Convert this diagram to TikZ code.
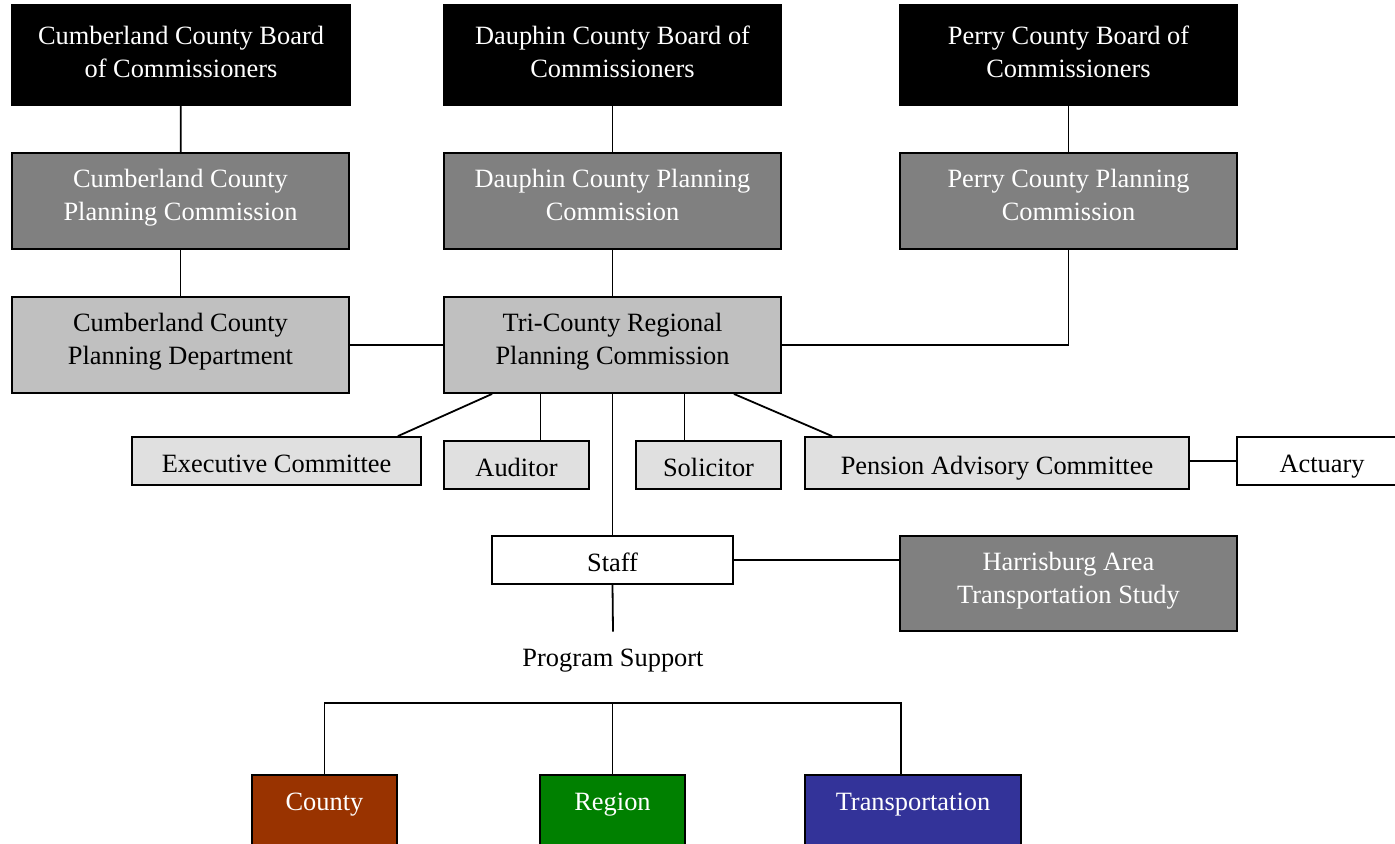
\documentclass[tikz,border=0pt]{standalone}
\usepackage{fontspec}
\setmainfont{Liberation Serif}
\definecolor{midgrey}{HTML}{808080}
\definecolor{lightgrey}{HTML}{C0C0C0}
\definecolor{palegrey}{HTML}{E0E0E0}
\definecolor{countyred}{HTML}{993300}
\definecolor{regiongreen}{HTML}{008000}
\definecolor{transblue}{HTML}{333399}
\begin{document}
\begin{tikzpicture}[x=0.5pt,y=-0.5pt,
    box/.style={draw=black, line width=0.9pt, inner xsep=2pt, inner ysep=0pt, align=center,
        font=\fontsize{13.2}{16.2}\selectfont},
    twoline/.style={box, text height=33.5pt, text depth=14.5pt},
    oneline/.style={box, minimum height=24pt, text height=11.5pt, text depth=0.5pt},
    board/.style={twoline, fill=black, text=white, minimum width=169pt, text height=36pt, text depth=14pt},
    plan/.style={twoline, fill=midgrey, text=white, minimum width=168.5pt},
    dept/.style={twoline, fill=lightgrey, minimum width=168.5pt},
    committee/.style={oneline, fill=palegrey},
    program/.style={box, text=white, minimum width=72.5pt, text height=18pt, text depth=23.5pt},
    link/.style={line width=0.9pt}]

    \clip (0,0) rectangle (1395,843);

    %draw boards:
    \node[board] (cumbBoard) at (181,55) {Cumberland County Board\\of Commissioners};
    \node[board] (dauphBoard) at (612.5,55) {Dauphin County Board of\\Commissioners};
    \node[board] (perryBoard) at (1068.5,55) {Perry County Board of\\Commissioners};

    %draw planning commissions:
    \node[plan] (cumbPlan) at (180.5,201) {Cumberland County\\Planning Commission};
    \node[plan] (dauphPlan) at (612.5,201) {Dauphin County Planning\\Commission};
    \node[plan] (perryPlan) at (1068.5,201) {Perry County Planning\\Commission};

    %draw middle row:
    \node[dept] (cumbDept) at (180.5,345) {Cumberland County\\Planning Department};
    \node[dept] (tri) at (612.5,345) {Tri-County Regional\\Planning Commission};

    %draw committees:
    \node[committee, minimum width=144.5pt] (exec) at (276.5,461) {Executive Committee};
    \node[committee, minimum width=72.5pt] (auditor) at (516.5,465) {Auditor};
    \node[committee, minimum width=72.5pt] (solicitor) at (708.5,465) {Solicitor};
    \node[committee, minimum width=192pt, minimum height=26pt] (pension) at (997,463) {Pension Advisory Committee};
    \node[oneline, fill=white, minimum width=85pt] (actuary) at (1322,461) {Actuary};

    %draw staff:
    \node[oneline, fill=white, minimum width=120.5pt] (staff) at (612.5,560) {Staff};
    \node[twoline, fill=midgrey, text=white, minimum width=168.5pt, text depth=14pt] (harris) at (1068.5,583.5) {Harrisburg Area\\Transportation Study};
    \node[font=\fontsize{13.2}{16.2}\selectfont, inner xsep=0pt, inner ysep=6.5pt, text height=10.5pt, text depth=1.5pt] (progSup) at (613,657) {Program Support};

    %draw programs:
    \node[program, fill=countyred, anchor=north] (county) at (324.5,774) {County};
    \node[program, fill=regiongreen, anchor=north] (region) at (612.5,774) {Region};
    \node[program, fill=transblue, anchor=north, minimum width=108pt] (trans) at (913,774) {Transportation};

    %draw lines:
    \draw[link] (cumbBoard) -- (cumbPlan);
    \draw[link] (dauphBoard) -- (dauphPlan);
    \draw[link] (perryBoard) -- (perryPlan);
    \draw[link] (cumbPlan) -- (cumbDept);
    \draw[link] (dauphPlan) -- (tri);
    \draw[link] (perryPlan.south) |- (tri.east);
    \draw[link] (cumbDept) -- (tri);
    \draw[link] ([xshift=24.5pt]tri.south west) -- ([xshift=-12pt]exec.north east);
    \draw[link] ([xshift=12pt]auditor.north) -- ([xshift=12pt]auditor.north |- tri.south);
    \draw[link] ([xshift=-12pt]solicitor.north) -- ([xshift=-12pt]solicitor.north |- tri.south);
    \draw[link] ([xshift=-24pt]tri.south east) -- ([xshift=14pt]pension.north west);
    \draw[link] (pension.east |- actuary.west) -- (actuary.west);
    \draw[link] (tri.south) -- (staff.north);
    \draw[link] (staff.east) -- (staff.east -| harris.west);
    \draw[link] (staff.south) -- (progSup.north);

    %draw program bracket:
    \coordinate (brace) at (612.5,703);
    \draw[link] (county.north) |- (brace) -| ([xshift=-6pt]trans.north);
    \draw[link] (brace) -- (region.north);

\end{tikzpicture}
\end{document}
